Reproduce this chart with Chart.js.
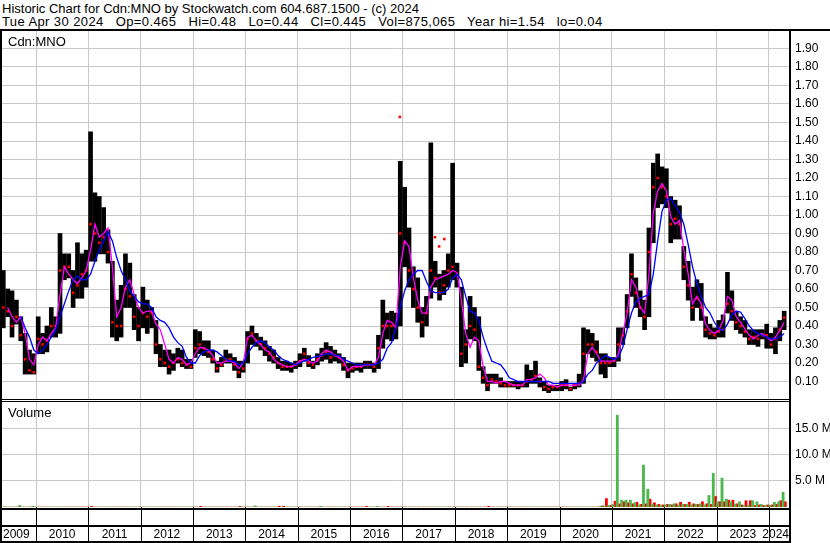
<!DOCTYPE html>
<html>
<head>
<meta charset="utf-8">
<title>Historic Chart for Cdn:MNO</title>
<script src="https://cdn.jsdelivr.net/npm/chart.js@4.4.1/dist/chart.umd.min.js"></script>
<style>
  html, body { margin: 0; padding: 0; background: #fff; }
  #wrap { position: relative; width: 830px; height: 543px; overflow: hidden;
          font-family: "Liberation Sans", Arial, sans-serif; font-size: 13px; color: #000; }
  .txt { position: absolute; white-space: pre; line-height: 15px; }
  .rule { position: absolute; background: #000; }
  canvas { position: absolute; left: 0; }
</style>
</head>
<body>
<div id="wrap">
  <div class="txt" style="left:2px;top:1px">Historic Chart for Cdn:MNO by Stockwatch.com 604.687.1500 - (c) 2024</div>
  <div class="txt" style="left:2px;top:14px;letter-spacing:0.4px">Tue Apr 30 2024   Op=0.465   Hi=0.48   Lo=0.44   Cl=0.445   Vol=875,065   Year hi=1.54   lo=0.04</div>
  <canvas id="priceChart" width="830" height="370" style="top:30px"></canvas>
  <canvas id="volumeChart" width="830" height="142" style="top:401px"></canvas>
  <div class="txt" style="left:8px;top:34px">Cdn:MNO</div>
  <div class="txt" style="left:8px;top:405px">Volume</div>
  <div class="rule" style="left:0;top:29px;width:830px;height:2px"></div>
  <div class="rule" style="left:0;top:29px;width:2px;height:514px"></div>
  <div class="rule" style="left:789px;top:29px;width:2px;height:514px"></div>
  <div class="rule" style="left:0;top:399px;width:791px;height:1px"></div>
  <div class="rule" style="left:0;top:401px;width:791px;height:1px"></div>
  <div class="rule" style="left:0;top:508px;width:791px;height:2px"></div>
  <div class="rule" style="left:0;top:525px;width:791px;height:2px"></div>
  <div class="rule" style="left:0;top:541px;width:791px;height:2px"></div>
</div>

<script>
  // Monthly bars, first one is May 2009
  const firstYear = 2009;
  const firstMonth = 5;

  const yearTicks = [2010, 2011, 2012, 2013, 2014, 2015, 2016, 2017, 2018, 2019, 2020, 2021, 2022, 2023, 2024];
  const yearLabels = ["2009", "2010", "2011", "2012", "2013", "2014", "2015", "2016", "2017", "2018", "2019", "2020", "2021", "2022", "2023", "2024"];
  const priceTicks = [0.1, 0.2, 0.3, 0.4, 0.5, 0.6, 0.7, 0.8, 0.9, 1.0, 1.1, 1.2, 1.3, 1.4, 1.5, 1.6, 1.7, 1.8, 1.9];
  const volumeTicks = [5, 10, 15];

  const highs = [
    0.70, 0.60, 0.59, 0.54, 0.45, 0.36, 0.27, 0.25,
    0.45, 0.36, 0.40, 0.50, 0.45, 0.90, 0.79, 0.79, 0.70, 0.85, 0.79, 0.81,
    1.45, 1.12, 1.10, 1.04, 0.92, 0.75, 0.54, 0.62, 0.79, 0.74, 0.57, 0.50,
    0.61, 0.54, 0.50, 0.43, 0.30, 0.27, 0.27, 0.25, 0.28, 0.27, 0.22, 0.22,
    0.38, 0.37, 0.32, 0.32, 0.27, 0.21, 0.23, 0.27, 0.25, 0.23, 0.21, 0.21,
    0.37, 0.40, 0.36, 0.34, 0.32, 0.29, 0.27, 0.23, 0.21, 0.21, 0.20, 0.21,
    0.25, 0.28, 0.24, 0.21, 0.25, 0.28, 0.31, 0.29, 0.27, 0.25, 0.23, 0.20,
    0.20, 0.20, 0.20, 0.21, 0.21, 0.20, 0.35, 0.54, 0.47, 0.48, 0.47, 1.29,
    1.15, 0.93, 0.72, 0.66, 0.50, 0.56, 1.39, 0.75, 0.68, 0.70, 0.79, 1.28,
    0.74, 0.61, 0.38, 0.56, 0.50, 0.45, 0.18, 0.14, 0.14, 0.14, 0.12, 0.10,
    0.10, 0.10, 0.10, 0.10, 0.19, 0.16, 0.21, 0.12, 0.10, 0.08, 0.08, 0.08,
    0.10, 0.11, 0.07, 0.09, 0.14, 0.39, 0.38, 0.36, 0.32, 0.25, 0.25, 0.23,
    0.23, 0.39, 0.39, 0.57, 0.79, 0.66, 0.59, 0.54, 0.93, 1.28, 1.33, 1.26,
    1.25, 1.10, 1.08, 1.05, 0.83, 0.75, 0.61, 0.65, 0.63, 0.45, 0.41, 0.39,
    0.43, 0.46, 0.69, 0.59, 0.48, 0.45, 0.43, 0.38, 0.38, 0.38, 0.38, 0.41,
    0.36, 0.39, 0.43, 0.48
  ];

  const lows = [
    0.39, 0.45, 0.34, 0.41, 0.32, 0.14, 0.14, 0.14,
    0.25, 0.25, 0.26, 0.34, 0.34, 0.36, 0.65, 0.66, 0.50, 0.55, 0.55, 0.61,
    0.75, 0.75, 0.79, 0.79, 0.74, 0.34, 0.32, 0.34, 0.50, 0.50, 0.38, 0.32,
    0.39, 0.36, 0.39, 0.25, 0.18, 0.18, 0.14, 0.16, 0.20, 0.18, 0.17, 0.17,
    0.23, 0.25, 0.24, 0.23, 0.20, 0.15, 0.18, 0.20, 0.20, 0.16, 0.12, 0.15,
    0.20, 0.30, 0.29, 0.27, 0.24, 0.21, 0.20, 0.17, 0.16, 0.16, 0.15, 0.17,
    0.18, 0.21, 0.18, 0.17, 0.19, 0.21, 0.22, 0.20, 0.21, 0.20, 0.16, 0.12,
    0.15, 0.16, 0.15, 0.17, 0.17, 0.15, 0.17, 0.28, 0.33, 0.32, 0.33, 0.40,
    0.72, 0.61, 0.50, 0.42, 0.34, 0.40, 0.55, 0.61, 0.54, 0.57, 0.61, 0.65,
    0.61, 0.18, 0.20, 0.33, 0.32, 0.16, 0.09, 0.05, 0.09, 0.09, 0.07, 0.07,
    0.07, 0.07, 0.06, 0.07, 0.07, 0.09, 0.09, 0.07, 0.05, 0.04, 0.05, 0.05,
    0.05, 0.06, 0.05, 0.06, 0.07, 0.09, 0.25, 0.23, 0.21, 0.14, 0.12, 0.18,
    0.18, 0.21, 0.30, 0.39, 0.56, 0.50, 0.45, 0.38, 0.45, 0.85, 1.04, 1.06,
    1.04, 0.85, 0.87, 0.87, 0.65, 0.54, 0.43, 0.50, 0.43, 0.34, 0.33, 0.33,
    0.34, 0.34, 0.47, 0.43, 0.38, 0.36, 0.34, 0.30, 0.30, 0.29, 0.33, 0.28,
    0.28, 0.25, 0.32, 0.38
  ];

  const closes = [
    0.50, 0.48, 0.40, 0.45, 0.35, 0.22, 0.16, 0.15,
    0.33, 0.30, 0.32, 0.40, 0.40, 0.70, 0.72, 0.72, 0.58, 0.62, 0.68, 0.70,
    0.95, 0.90, 0.85, 0.88, 0.80, 0.42, 0.40, 0.40, 0.60, 0.56, 0.45, 0.40,
    0.47, 0.45, 0.47, 0.30, 0.22, 0.20, 0.18, 0.20, 0.22, 0.20, 0.19, 0.18,
    0.28, 0.30, 0.28, 0.26, 0.22, 0.17, 0.19, 0.22, 0.22, 0.19, 0.15, 0.17,
    0.33, 0.36, 0.32, 0.30, 0.28, 0.25, 0.23, 0.20, 0.18, 0.18, 0.18, 0.19,
    0.21, 0.25, 0.20, 0.19, 0.22, 0.24, 0.26, 0.23, 0.24, 0.23, 0.19, 0.16,
    0.17, 0.18, 0.18, 0.19, 0.19, 0.18, 0.28, 0.40, 0.40, 0.40, 0.40, 0.90,
    0.85, 0.70, 0.60, 0.50, 0.42, 0.47, 0.70, 0.66, 0.58, 0.62, 0.70, 0.72,
    0.68, 0.25, 0.30, 0.40, 0.38, 0.18, 0.12, 0.08, 0.11, 0.10, 0.09, 0.08,
    0.08, 0.08, 0.08, 0.08, 0.10, 0.11, 0.13, 0.10, 0.07, 0.06, 0.07, 0.07,
    0.08, 0.08, 0.06, 0.08, 0.09, 0.25, 0.30, 0.30, 0.26, 0.20, 0.20, 0.20,
    0.21, 0.30, 0.35, 0.48, 0.68, 0.58, 0.50, 0.45, 0.80, 1.15, 1.20, 1.15,
    1.10, 0.95, 0.98, 0.95, 0.72, 0.62, 0.50, 0.55, 0.50, 0.38, 0.36, 0.35,
    0.37, 0.38, 0.52, 0.48, 0.42, 0.40, 0.37, 0.33, 0.34, 0.33, 0.35, 0.35,
    0.30, 0.33, 0.38, 0.445
  ];

  // short moving average (magenta)
  const maFast = [
    null, 0.50, 0.45, 0.42, 0.45, 0.36, 0.22, 0.19,
    0.30, 0.34, 0.32, 0.36, 0.39, 0.57, 0.72, 0.68, 0.65, 0.63, 0.66, 0.70,
    0.81, 0.95, 0.88, 0.90, 0.93, 0.72, 0.45, 0.50, 0.61, 0.65, 0.57, 0.50,
    0.47, 0.48, 0.48, 0.41, 0.38, 0.30, 0.22, 0.20, 0.23, 0.22, 0.19, 0.20,
    0.25, 0.285, 0.28, 0.27, 0.24, 0.20, 0.20, 0.21, 0.21, 0.20, 0.17, 0.20,
    0.34, 0.35, 0.32, 0.30, 0.27, 0.26, 0.22, 0.20, 0.19, 0.18, 0.18, 0.19,
    0.21, 0.22, 0.21, 0.20, 0.21, 0.25, 0.27, 0.26, 0.24, 0.23, 0.21, 0.16,
    0.18, 0.18, 0.18, 0.19, 0.19, 0.19, 0.23, 0.36, 0.43, 0.42, 0.39, 0.72,
    0.86, 0.83, 0.66, 0.54, 0.47, 0.47, 0.61, 0.65, 0.66, 0.67, 0.68, 0.70,
    0.69, 0.54, 0.36, 0.285, 0.34, 0.32, 0.18, 0.10, 0.10, 0.09, 0.10, 0.10,
    0.09, 0.08, 0.08, 0.08, 0.11, 0.11, 0.12, 0.14, 0.12, 0.08, 0.08, 0.07,
    0.08, 0.08, 0.08, 0.08, 0.08, 0.11, 0.25, 0.285, 0.25, 0.21, 0.21, 0.21,
    0.21, 0.25, 0.36, 0.47, 0.65, 0.61, 0.50, 0.47, 0.68, 1.01, 1.13, 1.17,
    1.13, 0.99, 0.95, 0.97, 0.81, 0.68, 0.52, 0.56, 0.52, 0.41, 0.375, 0.36,
    0.375, 0.43, 0.56, 0.54, 0.45, 0.42, 0.385, 0.35, 0.33, 0.35, 0.36, 0.34,
    0.32, 0.34, 0.375, 0.42
  ];

  // long moving average (blue)
  const maSlow = [
    null, null, null, null, 0.45, 0.39, 0.34, 0.27,
    0.25, 0.27, 0.30, 0.34, 0.38, 0.45, 0.52, 0.59, 0.65, 0.67, 0.65, 0.65,
    0.68, 0.75, 0.81, 0.86, 0.91, 0.86, 0.77, 0.70, 0.65, 0.59, 0.56, 0.53,
    0.52, 0.52, 0.50, 0.45, 0.43, 0.42, 0.39, 0.34, 0.31, 0.29, 0.23, 0.20,
    0.20, 0.24, 0.26, 0.27, 0.27, 0.26, 0.24, 0.22, 0.21, 0.21, 0.19, 0.20,
    0.25, 0.285, 0.31, 0.32, 0.31, 0.285, 0.27, 0.24, 0.22, 0.21, 0.20, 0.19,
    0.20, 0.21, 0.22, 0.23, 0.235, 0.24, 0.25, 0.25, 0.24, 0.24, 0.22, 0.21,
    0.20, 0.19, 0.19, 0.19, 0.19, 0.19, 0.20, 0.22, 0.28, 0.31, 0.39, 0.50,
    0.59, 0.65, 0.68, 0.70, 0.70, 0.64, 0.59, 0.58, 0.58, 0.58, 0.60, 0.66,
    0.68, 0.65, 0.56, 0.48, 0.47, 0.43, 0.34, 0.27, 0.21, 0.20, 0.19, 0.16,
    0.12, 0.11, 0.10, 0.10, 0.10, 0.10, 0.10, 0.10, 0.10, 0.10, 0.09, 0.09,
    0.09, 0.09, 0.09, 0.09, 0.09, 0.10, 0.14, 0.16, 0.20, 0.22, 0.24, 0.23,
    0.22, 0.23, 0.285, 0.38, 0.47, 0.53, 0.55, 0.56, 0.57, 0.68, 0.86, 1.02,
    1.08, 1.09, 1.05, 1.015, 0.95, 0.84, 0.72, 0.63, 0.56, 0.50, 0.47, 0.42,
    0.385, 0.375, 0.41, 0.46, 0.48, 0.475, 0.44, 0.40, 0.375, 0.36, 0.35, 0.34,
    0.33, 0.33, 0.34, 0.36
  ];

  // odd close ticks away from the bars: [year, price]
  const strayTicks = [[2016.95, 1.53], [2017.62, 0.88], [2017.70, 0.83], [2017.80, 0.87]];

  // volume in millions, up months (green) and down months (red)
  const volUp = [
    0, 0, 0, 0, 0.3, 0, 0, 0.15,
    0, 0, 0, 0, 0, 0, 0, 0, 0, 0, 0, 0,
    0, 0, 0, 0, 0, 0, 0, 0, 0, 0, 0, 0,
    0, 0, 0, 0, 0, 0, 0, 0, 0, 0, 0, 0,
    0, 0, 0, 0, 0, 0, 0, 0, 0, 0, 0, 0,
    0, 0, 0.2, 0, 0, 0, 0, 0, 0, 0, 0, 0,
    0, 0, 0, 0, 0, 0.12, 0, 0, 0, 0, 0, 0,
    0, 0, 0, 0, 0, 0, 0.12, 0, 0, 0, 0, 0,
    0, 0, 0, 0, 0, 0, 0, 0, 0, 0, 0, 0,
    0, 0, 0, 0, 0, 0, 0, 0, 0, 0, 0, 0,
    0, 0, 0, 0, 0, 0, 0, 0, 0, 0, 0, 0,
    0, 0, 0, 0, 0, 0, 0, 0, 0, 0.1, 0.2, 0.3,
    0.5, 17.5, 1.3, 1.3, 1.3, 0.8, 0.4, 8.0, 3.4, 0.5, 0.4, 0.3,
    0.4, 0.5, 0.6, 0.3, 0.5, 0.5, 0.4, 0.5, 0.6, 0.4, 2.2, 6.4,
    1.0, 5.5, 1.5, 1.0, 0.5, 1.0, 0.3, 0.3, 1.2, 1.0, 0.5, 0.3,
    0.3, 0.9, 1.0, 2.8
  ];

  const volDown = [
    0, 0, 0, 0, 0, 0, 0, 0,
    0, 0, 0, 0, 0, 0, 0, 0, 0, 0, 0, 0,
    0.12, 0, 0, 0, 0, 0, 0, 0, 0, 0, 0, 0,
    0, 0, 0, 0, 0, 0, 0, 0, 0, 0, 0, 0,
    0, 0.12, 0, 0, 0, 0, 0, 0, 0, 0, 0.12, 0,
    0, 0, 0, 0, 0, 0, 0, 0.15, 0.15, 0, 0, 0,
    0, 0, 0, 0, 0, 0, 0, 0, 0, 0, 0, 0,
    0, 0, 0, 0.12, 0, 0, 0, 0, 0.12, 0, 0, 0,
    0, 0, 0, 0, 0, 0, 0, 0, 0, 0, 0, 0,
    0, 0, 0, 0, 0, 0, 0, 0.12, 0, 0, 0, 0,
    0, 0, 0, 0, 0, 0, 0, 0, 0, 0, 0, 0,
    0, 0, 0, 0, 0, 0, 0, 0, 0, 0.2, 1.6, 0.3,
    1.1, 0.6, 1.0, 0.8, 0.6, 0.9, 0.5, 0.6, 1.5, 0.8, 0.5, 0.4,
    0.5, 0.4, 0.6, 0.9, 0.5, 0.9, 0.6, 0.5, 1.0, 0.6, 0.5, 2.0,
    1.0, 1.0, 1.3, 1.3, 0.6, 0.4, 1.2, 1.2, 0.3, 0.4, 0.3, 0.4,
    0.4, 0.5, 1.2, 1.0
  ];

  // x range of the plot: a bit of 2009 up to end of April 2024
  const xMin = 2009.35;
  const xMax = 2024.384;

  Chart.defaults.font.family = '"Liberation Sans", Arial, sans-serif';
  Chart.defaults.font.size = 12;
  Chart.defaults.color = "#000";

  const monthX = highs.map((_, i) => firstYear + (firstMonth - 1 + i + 0.5) / 12);
  const points = (arr) => arr.map((v, i) => ({ x: monthX[i], y: v }));

  const gridColor = "#c8c8c8";

  function xScale() {
    return {
      type: "linear",
      min: xMin,
      max: xMax,
      offset: false,
      grid: { color: gridColor, drawTicks: false, offset: false },
      border: { display: false },
      ticks: { display: false },
      afterBuildTicks: (axis) => { axis.ticks = yearTicks.map((v) => ({ value: v })); },
      afterFit: (axis) => { axis.height = 0; axis.paddingLeft = 0; axis.paddingRight = 0; },
    };
  }

  // Price panel
  const priceCtx = document.getElementById("priceChart").getContext("2d");
  const priceChart = new Chart(priceCtx, {
    type: "bar",
    data: {
      datasets: [
        {
          type: "line",
          label: "Long average",
          data: points(maSlow),
          borderColor: "#0000ff",
          borderWidth: 1.3,
          pointRadius: 0,
          order: 1,
        },
        {
          type: "line",
          label: "Short average",
          data: points(maFast),
          borderColor: "#ff00ff",
          borderWidth: 1.3,
          pointRadius: 0,
          order: 2,
        },
        {
          type: "scatter",
          label: "Close",
          data: points(closes).concat(strayTicks.map(([x, y]) => ({ x, y }))),
          pointStyle: "rect",
          pointRadius: 1.8,
          borderWidth: 0,
          backgroundColor: "#ff0000",
          order: 3,
        },
        {
          type: "bar",
          label: "Range",
          data: highs.map((h, i) => ({ x: monthX[i], y: [lows[i], h] })),
          backgroundColor: "#000",
          barThickness: 4,
          order: 4,
        },
      ],
    },
    options: {
      responsive: false,
      animation: false,
      events: [],
      layout: { autoPadding: false, padding: { left: 2, top: 0, right: 0, bottom: 0 } },
      plugins: { legend: { display: false }, tooltip: { enabled: false } },
      scales: {
        x: xScale(),
        y: {
          position: "right",
          min: 0,
          max: 2,
          grid: { color: gridColor, drawTicks: false },
          border: { display: false },
          ticks: { padding: 6, callback: (v) => Number(v).toFixed(2) },
          afterBuildTicks: (axis) => { axis.ticks = priceTicks.map((v) => ({ value: v })); },
          afterFit: (axis) => { axis.width = 41; axis.paddingTop = 0; axis.paddingBottom = 0; },
        },
      },
    },
  });

  // Date rows under the volume panel
  const dateRows = {
    id: "dateRows",
    afterDraw(chart) {
      const { ctx, chartArea } = chart;
      const x = chart.scales.x;
      const top = chartArea.bottom;
      ctx.save();
      ctx.strokeStyle = "#000";
      ctx.lineWidth = 1;
      yearTicks.forEach((yr) => {
        const px = Math.round(x.getPixelForValue(yr)) + 0.5;
        ctx.beginPath();
        ctx.moveTo(px, top);
        ctx.lineTo(px, chart.height);
        ctx.stroke();
      });
      ctx.font = '12px "Liberation Sans", Arial, sans-serif';
      ctx.fillStyle = "#000";
      ctx.textBaseline = "middle";
      yearLabels.forEach((label, i) => {
        const w = ctx.measureText(label).width;
        let left = x.getPixelForValue(firstYear + i + 0.5) - w / 2;
        left = Math.max(chartArea.left + 1, Math.min(chartArea.right - w, left));
        ctx.fillText(label, left, 133.5);
      });
      ctx.restore();
    },
  };

  // Volume panel
  const volumeCtx = document.getElementById("volumeChart").getContext("2d");
  const volumeChart = new Chart(volumeCtx, {
    type: "bar",
    data: {
      datasets: [
        {
          label: "Up volume",
          data: points(volUp),
          backgroundColor: "#4cb84c",
          categoryPercentage: 1,
          barPercentage: 1,
        },
        {
          label: "Down volume",
          data: points(volDown),
          backgroundColor: "#ff0000",
          categoryPercentage: 1,
          barPercentage: 1,
        },
      ],
    },
    options: {
      responsive: false,
      animation: false,
      events: [],
      layout: { autoPadding: false, padding: { left: 2, top: 0, right: 0, bottom: 36 } },
      plugins: { legend: { display: false }, tooltip: { enabled: false } },
      scales: {
        x: xScale(),
        y: {
          position: "right",
          min: 0,
          max: 20.2,
          grid: { color: gridColor, drawTicks: false },
          border: { display: false },
          ticks: { padding: 6, callback: (v) => Number(v).toFixed(1) + " M" },
          afterBuildTicks: (axis) => { axis.ticks = volumeTicks.map((v) => ({ value: v })); },
          afterFit: (axis) => { axis.width = 41; axis.paddingTop = 0; axis.paddingBottom = 0; },
        },
      },
    },
    plugins: [dateRows],
  });
</script>
</body>
</html>
